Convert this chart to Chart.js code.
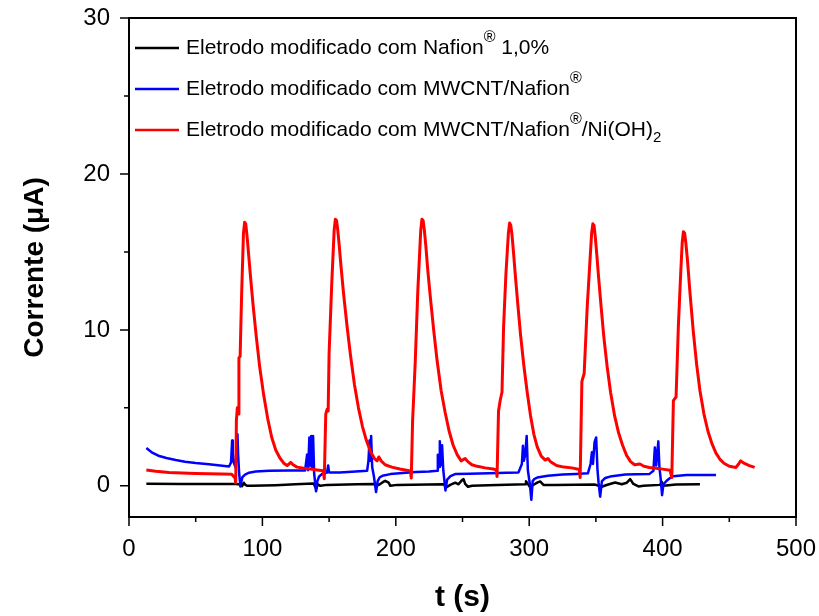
<!DOCTYPE html>
<html>
<head>
<meta charset="utf-8">
<script src="https://cdn.jsdelivr.net/npm/chart.js@4.4.0/dist/chart.umd.min.js"></script>
<style>
  body { margin: 0; background: #fff; }
</style>
</head>
<body>
<canvas id="chart" width="819" height="616"></canvas>
<script>
// Eletrodo com Nafion 1,0% (preto)
const nafionT = [13, 40, 79.8, 82, 84.8, 86, 87, 88.5, 92, 110, 124.7, 138.4, 140.4, 141.5, 143.4, 148.5, 171, 183.4, 185.4, 188, 190.5, 192.1, 194.6, 195.9, 201, 236, 237.8, 240.8, 244.6, 247, 249.5, 250.8, 252, 254.1, 257.1, 269.5, 297, 297.6, 300.7, 303, 306, 308.2, 310.7, 319.5, 349.4, 354.4, 358, 364.4, 369.4, 373.2, 375.7, 378.1, 381.9, 385.6, 398.1, 399.4, 400.5, 410, 428];
const nafionI = [0.13, 0.12, 0.11, 0.1, -0.02, 0.2, 0.08, 0.0, 0.0, 0.04, 0.1, 0.15, -0.22, 0.1, 0.0, 0.06, 0.1, 0.12, 0.0, 0.1, 0.25, 0.32, 0.2, 0.0, 0.06, 0.1, -0.1, 0.06, 0.2, 0.1, 0.35, 0.43, 0.12, -0.06, 0.0, 0.04, 0.1, 0.3, -0.1, 0.05, 0.2, 0.28, 0.06, 0.06, 0.08, -0.06, 0.05, 0.21, 0.1, 0.2, 0.43, 0.12, -0.04, 0.0, 0.06, 0.25, 0.0, 0.08, 0.1];

// Eletrodo com MWCNT/Nafion (azul)
const mwcntT = [13, 17, 22, 28, 35, 42, 50, 60, 70, 75, 76.5, 77.3, 77.8, 78.5, 79.8, 80.6, 81.3, 81.8, 82.5, 83.5, 84.3, 85, 87, 90, 95, 105, 120, 132, 133.5, 134.3, 135.2, 135.8, 136.6, 137.2, 138, 138.8, 140.2, 141.2, 142.5, 145, 148.5, 149.3, 150, 158, 170, 178.5, 179.5, 180.3, 180.9, 181.5, 182.3, 183.6, 185.2, 186.4, 188, 190, 196, 205, 215, 225, 231, 231.5, 232.4, 233, 233.7, 234.7, 235.6, 237.2, 238.5, 241, 244.5, 255, 270, 283, 292, 294.5, 295.3, 296, 297, 298.1, 299, 300.5, 301.6, 302.6, 304, 306, 314, 325, 335, 344, 346, 347, 347.8, 349, 350.2, 351.2, 352, 353.2, 354.5, 357, 362, 372, 380, 390, 393.1, 394.2, 395.2, 396.8, 397.6, 398.5, 399.6, 400.6, 403, 405.6, 408, 418, 430, 440];
const mwcntI = [2.42, 2.15, 1.93, 1.78, 1.65, 1.55, 1.47, 1.39, 1.29, 1.24, 1.5, 2.9, 2.1, 1.5, 1.2, 2.0, 3.3, 2.0, 0.9, -0.05, 0.3, 0.55, 0.72, 0.84, 0.92, 0.96, 0.98, 0.98, 2.0, 1.0, 3.1, 1.3, 3.2, 1.2, 3.2, 0.8, -0.35, 0.3, 0.6, 0.78, 0.85, 1.3, 0.86, 0.86, 0.92, 0.96, 1.6, 2.9, 1.6, 3.2, 1.2, 0.6, -0.4, 0.3, 0.55, 0.64, 0.75, 0.82, 0.88, 0.92, 0.96, 2.0, 1.2, 2.85, 1.3, 2.6, 1.0, -0.3, 0.4, 0.62, 0.75, 0.78, 0.8, 0.83, 0.86, 1.4, 2.57, 1.6, 2.0, 3.2, 1.0, 0.1, -0.9, 0.3, 0.45, 0.53, 0.64, 0.72, 0.76, 0.8, 1.4, 2.15, 1.4, 2.8, 3.1, 1.0, 0.2, -0.7, 0.3, 0.5, 0.62, 0.72, 0.74, 0.75, 0.96, 2.46, 1.3, 2.85, 1.2, 0.5, -0.6, 0.1, 0.32, 0.5, 0.62, 0.7, 0.7, 0.7];

// Eletrodo com MWCNT/Nafion/Ni(OH)2 (vermelho)
const niohT = [13, 20, 30, 40, 50, 60, 70, 77, 79.5, 80, 80.5, 81.2, 81.8, 82.4, 83.3, 84.5, 85.8, 86.7, 87.5, 88.4, 89.5, 91, 93, 95.5, 98, 101, 104, 107, 110, 113, 116, 118.5, 120, 121.3, 123, 126, 131, 136, 141, 145.5, 146.4, 147.5, 148.5, 149.3, 150, 152, 153.8, 154.7, 155.6, 156.5, 157.6, 159, 161, 163.5, 166, 169, 172, 175, 178, 181, 184, 186, 187.3, 189, 192, 197, 203, 208, 211, 211.6, 212.6, 213.3, 214.6, 216.5, 218.7, 219.6, 220.5, 221.4, 222.5, 224, 226, 228.5, 231, 234, 237, 240, 243, 246, 249, 252, 254, 257, 261, 267, 273, 275.3, 275.9, 277, 278.3, 279.6, 280.8, 282.5, 284.4, 285.3, 286.2, 287.1, 288.2, 289.5, 291.5, 293.5, 296, 298.5, 301, 303.5, 306, 309, 312, 314, 316, 320.5, 326, 332, 337.5, 338.2, 339.5, 341.2, 343.5, 346.8, 347.7, 348.6, 349.5, 350.6, 352, 354, 356, 358.5, 361, 364, 367, 370, 373, 376, 379, 383, 386, 390, 395, 400, 405.6, 406.9, 408.1, 410.1, 411.8, 413.5, 414.7, 415.6, 416.5, 417.4, 418.6, 420.5, 423, 425.5, 428, 431, 434, 437, 440, 443, 446, 450, 455, 457, 458.5, 461, 465, 469];
const niohI = [1.02, 0.93, 0.86, 0.82, 0.79, 0.77, 0.75, 0.74, 0.5, 0.2, 4.2, 5.0, 4.6, 8.2, 8.3, 12.5, 16.2, 16.9, 16.8, 16.1, 15.0, 13.5, 11.6, 9.5, 7.6, 5.8, 4.3, 3.1, 2.3, 1.8, 1.45, 1.3, 1.4, 1.5, 1.35, 1.2, 1.12, 1.08, 1.02, 0.96, 0.45, 4.6, 4.9, 4.8, 8.5, 13.0, 16.4, 17.1, 17.0, 16.4, 15.4, 14.0, 12.2, 10.2, 8.4, 6.5, 5.0, 3.8, 2.9, 2.2, 1.75, 1.6, 1.85, 1.6, 1.35, 1.2, 1.08, 1.0, 0.95, 0.5, 4.2, 5.5, 8.0, 12.5, 16.4, 17.1, 17.0, 16.4, 15.4, 13.8, 12.0, 9.9, 8.0, 6.1, 4.7, 3.5, 2.6, 2.0, 1.6, 1.75, 1.55, 1.35, 1.25, 1.15, 1.08, 1.0, 0.6, 4.8, 5.5, 6.0, 10.2, 13.5, 16.2, 16.85, 16.7, 16.1, 15.0, 13.6, 11.6, 9.7, 7.7, 6.0, 4.5, 3.3, 2.5, 1.9, 1.65, 1.75, 1.55, 1.3, 1.2, 1.15, 1.05, 0.53, 6.7, 7.2, 11.5, 16.2, 16.8, 16.7, 16.0, 14.9, 13.4, 11.4, 9.5, 7.6, 6.0, 4.5, 3.4, 2.6, 1.95, 1.55, 1.35, 1.4, 1.25, 1.18, 1.12, 1.07, 1.0, 0.53, 5.46, 5.7, 10.2, 13.5, 15.6, 16.3, 16.2, 15.6, 14.5, 12.4, 9.9, 7.8, 6.1, 4.6, 3.5, 2.7, 2.1, 1.7, 1.45, 1.25, 1.18, 1.4, 1.6, 1.45, 1.3, 1.18];

const xMajor = [0, 100, 200, 300, 400, 500];
const xMinor = [50, 150, 250, 350, 450];
const yMajor = [0, 10, 20, 30];
const yMinor = [5, 15, 25];

// legend text, pieces: [text, 'sup' | 'sub' | '']
const legendLabels = [
    [['Eletrodo modificado com Nafion', ''], ['®', 'sup'], [' 1,0%', '']],
    [['Eletrodo modificado com MWCNT/Nafion', ''], ['®', 'sup']],
    [['Eletrodo modificado com MWCNT/Nafion', ''], ['®', 'sup'], ['/Ni(OH)', ''], ['2', 'sub']]
];
const legendColors = ['#000000', '#0000ff', '#ff0000'];

function toPoints(ts, vs) {
    return ts.map((t, i) => ({ x: t, y: vs[i] }));
}

const FONT = "'Liberation Sans', Arial, sans-serif";

const framePlugin = {
    id: 'frame',
    afterDraw(chart) {
        const { ctx, chartArea: a, scales } = chart;
        const x = scales.x, y = scales.y;
        ctx.save();
        ctx.strokeStyle = '#000';
        ctx.lineWidth = 2;
        ctx.strokeRect(a.left, a.top, a.right - a.left, a.bottom - a.top);

        // tick marks, pointing out
        ctx.lineWidth = 1.5;
        ctx.beginPath();
        xMajor.forEach(v => { const p = x.getPixelForValue(v); ctx.moveTo(p, a.bottom); ctx.lineTo(p, a.bottom + 9); });
        xMinor.forEach(v => { const p = x.getPixelForValue(v); ctx.moveTo(p, a.bottom); ctx.lineTo(p, a.bottom + 5); });
        yMajor.forEach(v => { const p = y.getPixelForValue(v); ctx.moveTo(a.left, p); ctx.lineTo(a.left - 9, p); });
        yMinor.forEach(v => { const p = y.getPixelForValue(v); ctx.moveTo(a.left, p); ctx.lineTo(a.left - 5, p); });
        ctx.stroke();

        // legend
        ctx.textBaseline = 'middle';
        ctx.fillStyle = '#000';
        legendLabels.forEach((parts, i) => {
            const ly = a.top + 30 + i * 41;
            ctx.strokeStyle = legendColors[i];
            ctx.lineWidth = 2.5;
            ctx.beginPath();
            ctx.moveTo(a.left + 6, ly);
            ctx.lineTo(a.left + 50, ly);
            ctx.stroke();
            let tx = a.left + 57;
            parts.forEach(([txt, kind]) => {
                let dy = 0;
                if (kind === 'sup') { ctx.font = '16px ' + FONT; dy = -10; }
                else if (kind === 'sub') { ctx.font = '15px ' + FONT; dy = 8; }
                else { ctx.font = '21px ' + FONT; }
                ctx.fillText(txt, tx, ly + dy);
                tx += ctx.measureText(txt).width;
            });
        });
        ctx.restore();
    }
};

new Chart(document.getElementById('chart'), {
    type: 'line',
    data: {
        datasets: [
            {
                label: 'Eletrodo modificado com Nafion® 1,0%',
                data: toPoints(nafionT, nafionI),
                borderColor: '#000000',
                borderWidth: 2.5,
                order: 3
            },
            {
                label: 'Eletrodo modificado com MWCNT/Nafion®',
                data: toPoints(mwcntT, mwcntI),
                borderColor: '#0000ff',
                borderWidth: 2.5,
                order: 2
            },
            {
                label: 'Eletrodo modificado com MWCNT/Nafion®/Ni(OH)2',
                data: toPoints(niohT, niohI),
                borderColor: '#ff0000',
                borderWidth: 3,
                order: 1
            }
        ]
    },
    options: {
        responsive: false,
        devicePixelRatio: 1,
        animation: false,
        elements: { point: { radius: 0 }, line: { tension: 0, borderJoinStyle: 'round' } },
        layout: { padding: { top: 18, right: 23, left: 0, bottom: 0 } },
        plugins: { legend: { display: false }, tooltip: { enabled: false } },
        scales: {
            x: {
                type: 'linear',
                min: 0,
                max: 500,
                afterBuildTicks: s => { s.ticks = xMajor.map(v => ({ value: v })); },
                afterFit: s => { s.height = 99; s.paddingLeft = 0; s.paddingRight = 0; },
                grid: { display: false, drawTicks: false },
                border: { display: false },
                ticks: { color: '#000', font: { family: FONT, size: 24 }, padding: 18, maxRotation: 0 },
                title: { display: true, text: 't (s)', color: '#000', font: { family: FONT, size: 30, weight: 'bold' }, padding: 0 }
            },
            y: {
                type: 'linear',
                min: -2,
                max: 30,
                afterBuildTicks: s => { s.ticks = yMajor.map(v => ({ value: v })); },
                afterFit: s => { s.width = 129; s.paddingTop = 0; s.paddingBottom = 0; },
                grid: { display: false, drawTicks: false },
                border: { display: false },
                ticks: { color: '#000', font: { family: FONT, size: 24 }, padding: 19 },
                title: { display: true, text: 'Corrente (μA)', color: '#000', font: { family: FONT, size: 28, weight: 'bold' }, padding: { top: 18, bottom: 0 } }
            }
        }
    },
    plugins: [framePlugin]
});
</script>
</body>
</html>
